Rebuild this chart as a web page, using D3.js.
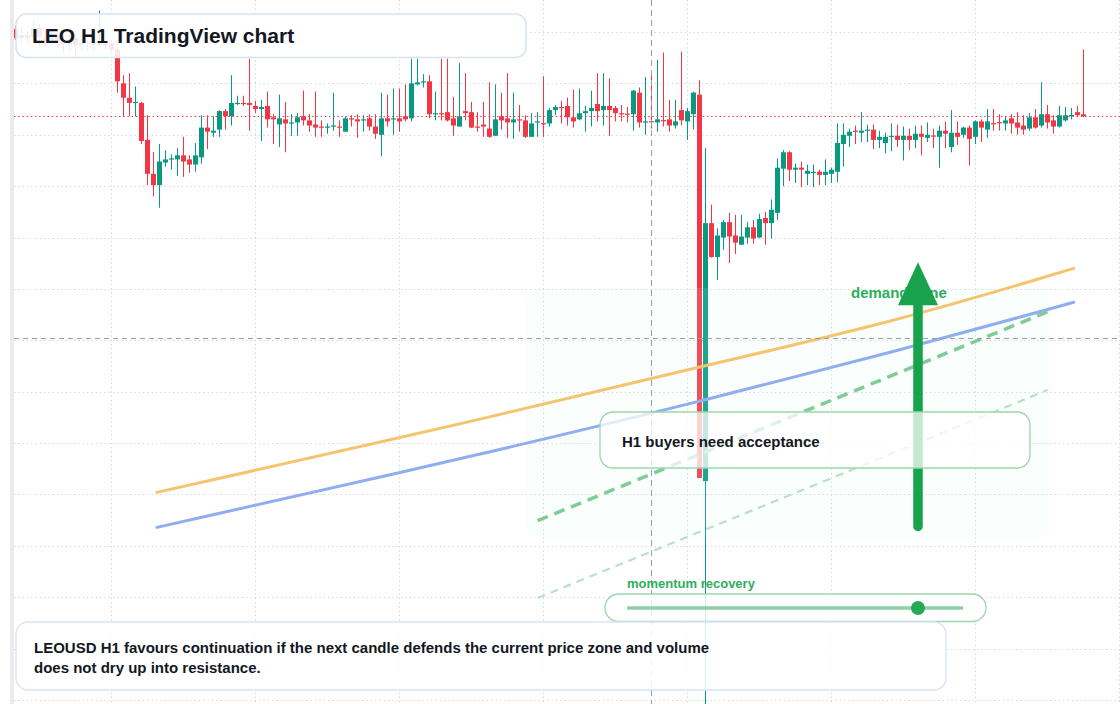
<!DOCTYPE html>
<html>
<head>
<meta charset="utf-8">
<script src="https://cdn.jsdelivr.net/npm/d3@7"></script>
<style>
  html, body { margin: 0; padding: 0; background: #fff; }
  svg { display: block; font-family: "Liberation Sans", Arial, sans-serif; }
</style>
</head>
<body>
<div id="chart"></div>
<script>
// LEOUSD, one candle per hour
const startTime = Date.UTC(2025, 2, 10, 8);

const opens = [
  9.103, 9.094, 9.097, 9.095, 9.104, 9.095, 9.092, 9.096, 9.091, 9.088,
  9.094, 9.087, 9.090, 9.088, 9.087, 9.089, 9.089, 9.083, 9.050, 9.036,
  9.031, 9.031, 8.995, 8.962, 8.951, 8.973, 8.976, 8.976, 8.980, 8.976,
  8.971, 8.978, 9.007, 9.002, 9.005, 9.023, 9.018, 9.030, 9.031, 9.031,
  9.028, 9.025, 9.028, 9.017, 9.010, 9.015, 9.011, 9.012, 9.018, 9.014,
  9.010, 9.008, 9.007, 9.008, 9.008, 9.003, 9.016, 9.015, 9.014, 9.016,
  9.008, 9.000, 9.016, 9.015, 9.016, 9.018, 9.016, 9.049, 9.051, 9.052,
  9.020, 9.021, 9.022, 9.016, 9.008, 9.023, 9.022, 9.008, 9.010, 9.006,
  8.999, 9.018, 9.016, 9.012, 9.015, 9.014, 8.998, 9.012, 9.0113, 9.011,
  9.024, 9.027, 9.028, 9.017, 9.015, 9.021, 9.023, 9.030, 9.024, 9.028,
  9.026, 9.021, 9.0206, 9.020, 9.041, 9.012, 9.0133, 9.012, 9.0143, 9.015,
  9.009, 9.024, 9.013, 9.020, 9.039, 8.663, 8.914, 8.881, 8.900, 8.915,
  8.902, 8.893, 8.900, 8.910, 8.900, 8.919, 8.914, 8.924, 8.967, 8.983,
  8.966, 8.968, 8.962, 8.9629, 8.964, 8.961, 8.962, 8.964, 8.991, 8.999,
  9.004, 9.002, 9.004, 9.005, 8.995, 8.992, 8.998, 8.999, 8.995, 8.999,
  8.995, 9.001, 8.997, 8.9993, 8.998, 9.004, 8.988, 9.002, 9.000, 9.007,
  8.998, 9.013, 9.005, 9.0113, 9.0123, 9.011, 9.016, 9.012, 9.009, 9.006,
  9.017, 9.009, 9.020, 9.014, 9.008, 9.014, 9.018, 9.022, 9.020
];
const highs = [
  9.106, 9.105, 9.101, 9.111, 9.108, 9.102, 9.103, 9.100, 9.097, 9.098,
  9.098, 9.093, 9.092, 9.093, 9.121, 9.092, 9.092, 9.085, 9.058, 9.060,
  9.047, 9.032, 9.019, 8.983, 8.991, 8.985, 8.981, 8.987, 8.998, 8.980,
  8.992, 9.019, 9.019, 9.018, 9.024, 9.025, 9.058, 9.038, 9.038, 9.074,
  9.033, 9.034, 9.042, 9.020, 9.039, 9.032, 9.020, 9.021, 9.043, 9.020,
  9.042, 9.014, 9.011, 9.041, 9.014, 9.018, 9.019, 9.020, 9.019, 9.020,
  9.020, 9.041, 9.039, 9.045, 9.045, 9.049, 9.074, 9.074, 9.059, 9.058,
  9.042, 9.074, 9.074, 9.037, 9.070, 9.060, 9.032, 9.022, 9.032, 9.051,
  9.049, 9.041, 9.060, 9.041, 9.029, 9.019, 9.021, 9.022, 9.057, 9.026,
  9.029, 9.033, 9.036, 9.044, 9.045, 9.028, 9.043, 9.060, 9.060, 9.055,
  9.028, 9.029, 9.027, 9.0435, 9.046, 9.056, 9.060, 9.073, 9.080, 9.034,
  9.034, 9.081, 9.026, 9.042, 9.053, 8.987, 8.932, 8.909, 8.917, 8.924,
  8.922, 8.922, 8.915, 8.917, 8.923, 8.925, 8.937, 8.977, 8.985, 8.984,
  8.972, 8.974, 8.971, 8.971, 8.966, 8.976, 8.968, 9.011, 9.011, 9.006,
  9.009, 9.022, 9.010, 9.010, 9.004, 9.002, 9.011, 9.010, 9.008, 9.006,
  9.009, 9.009, 9.012, 9.006, 9.009, 9.013, 9.024, 9.013, 9.008, 9.009,
  9.014, 9.015, 9.025, 9.025, 9.020, 9.018, 9.020, 9.022, 9.019, 9.021,
  9.025, 9.051, 9.029, 9.019, 9.028, 9.027, 9.026, 9.028, 9.083
];
const lows = [
  9.092, 9.088, 9.089, 9.092, 9.086, 9.085, 9.087, 9.084, 9.080, 9.082,
  9.075, 9.082, 9.082, 9.082, 9.084, 9.083, 9.079, 9.041, 9.018, 9.018,
  9.018, 8.991, 8.951, 8.940, 8.929, 8.969, 8.966, 8.960, 8.959, 8.963,
  8.964, 8.972, 8.986, 8.998, 8.998, 9.005, 9.009, 9.029, 9.028, 9.004,
  9.021, 8.994, 9.007, 8.991, 8.988, 8.983, 8.999, 8.999, 9.009, 9.003,
  8.998, 8.998, 9.001, 9.004, 8.998, 9.003, 9.008, 8.997, 9.003, 9.004,
  8.996, 8.979, 9.008, 9.000, 9.003, 9.013, 9.013, 9.048, 9.046, 9.016,
  9.014, 9.014, 9.013, 8.999, 9.008, 9.014, 9.0065, 9.003, 8.998, 8.997,
  8.999, 9.005, 8.997, 8.996, 9.003, 8.997, 8.998, 8.998, 8.998, 9.008,
  9.019, 9.011, 9.009, 9.007, 9.014, 9.003, 9.008, 9.013, 9.009, 8.999,
  9.013, 9.013, 9.012, 9.004, 9.007, 9.000, 9.006, 9.003, 9.008, 9.003,
  9.006, 9.009, 8.995, 9.005, 8.666, 8.431, 8.8805, 8.859, 8.888, 8.875,
  8.884, 8.8926, 8.894, 8.894, 8.8995, 8.893, 8.899, 8.917, 8.950, 8.955,
  8.953, 8.949, 8.951, 8.949, 8.951, 8.951, 8.953, 8.954, 8.969, 8.988,
  8.991, 8.993, 8.993, 8.986, 8.987, 8.982, 8.984, 8.988, 8.975, 8.985,
  8.987, 8.980, 8.993, 8.987, 8.968, 8.987, 8.983, 8.990, 8.997, 8.970,
  8.991, 8.993, 8.997, 9.004, 9.004, 9.004, 9.001, 9.000, 9.000, 9.004,
  9.006, 9.007, 9.006, 9.001, 9.007, 9.013, 9.015, 9.017, 9.017
];
const closes = [
  9.094, 9.097, 9.094, 9.104, 9.095, 9.092, 9.096, 9.091, 9.088, 9.092,
  9.087, 9.090, 9.089, 9.090, 9.090, 9.087, 9.083, 9.052, 9.036, 9.031,
  9.032, 8.994, 8.962, 8.951, 8.974, 8.976, 8.977, 8.980, 8.974, 8.971,
  8.980, 9.007, 9.003, 9.004, 9.023, 9.018, 9.031, 9.031, 9.030, 9.029,
  9.025, 9.027, 9.015, 9.015, 9.016, 9.011, 9.012, 9.017, 9.014, 9.009,
  9.007, 9.007, 9.008, 9.009, 9.007, 9.016, 9.015, 9.013, 9.015, 9.008,
  9.001, 9.016, 9.013, 9.016, 9.013, 9.015, 9.050, 9.051, 9.052, 9.020,
  9.021, 9.020, 9.014, 9.009, 9.018, 9.021, 9.007, 9.007, 9.008, 8.998,
  9.015, 9.014, 9.012, 9.015, 9.014, 8.998, 9.011, 9.013, 9.0106, 9.024,
  9.027, 9.026, 9.017, 9.013, 9.021, 9.023, 9.026, 9.023, 9.028, 9.024,
  9.021, 9.020, 9.0196, 9.043, 9.012, 9.013, 9.0123, 9.015, 9.0133, 9.009,
  9.013, 9.014, 9.023, 9.041, 8.666, 8.914, 8.881, 8.902, 8.915, 8.901,
  8.895, 8.901, 8.910, 8.899, 8.918, 8.914, 8.927, 8.968, 8.983, 8.966,
  8.968, 8.966, 8.965, 8.9639, 8.961, 8.964, 8.966, 8.992, 9.000, 9.003,
  9.003, 9.004, 9.005, 8.995, 8.998, 8.998, 8.999, 8.995, 8.999, 8.995,
  9.001, 8.998, 9.000, 8.9983, 9.004, 9.001, 9.002, 8.998, 9.007, 8.996,
  9.013, 9.007, 9.013, 9.0103, 9.0113, 9.014, 9.011, 9.007, 9.005, 9.017,
  9.007, 9.020, 9.012, 9.008, 9.019, 9.019, 9.0193, 9.019, 9.018
];

// overlays, hours counted from the first candle
const orangeHours = [23.6, 80.8, 113.7, 146.7, 176.4];
const orangePrices = [8.652, 8.727, 8.774, 8.818, 8.870];
const blueHours = [23.6, 80.8, 113.7, 146.7, 176.4];
const bluePrices = [8.618, 8.693, 8.740, 8.789, 8.837];
const channelHours = [87.05, 172.05];
const channelUpper = [8.6245, 8.8278];
const channelLower = [8.5493, 8.7516];
const zoneHours = [85.07, 172.7];
const zonePrices = [8.607, 8.851];
const arrowHour = 150.45;
const arrowPrices = [8.614, 8.876];
const crossHour = 106;
const crossPrice = 8.802;
const momentum = 0.866;

const W = 1120, H = 704, paneLeft = 14;
const up = "#089981", down = "#f23645";
const hourToTime = h => new Date(startTime + h * 3600e3);
const times = opens.map((d, i) => hourToTime(i));
const candles = opens.map((o, i) => ({t: times[i], o: o, h: highs[i], l: lows[i], c: closes[i]}));

const svg = d3.select("#chart").append("svg")
    .attr("width", W)
    .attr("height", H);

svg.append("rect").attr("width", W).attr("height", H).attr("fill", "#fff");

const x = d3.scaleUtc()
    .domain([times[0], times[times.length - 1]])
    .range([15.3, 1083.3]);
const y = d3.scaleLinear()
    .domain([8.45, 9.10])
    .range([700, 32]);

svg.append("defs").append("clipPath").attr("id", "pane")
    .append("rect")
    .attr("x", paneLeft).attr("y", 0)
    .attr("width", W - paneLeft).attr("height", H);

const pane = svg.append("g").attr("clip-path", "url(#pane)");

// dotted grid
const days = d3.utcDay.range(x.invert(paneLeft), x.invert(W + 2));
pane.append("g").selectAll("line")
    .data(days)
    .join("line")
    .attr("x1", d => Math.round(x(d)) + 0.5)
    .attr("x2", d => Math.round(x(d)) + 0.5)
    .attr("y1", 0)
    .attr("y2", H)
    .attr("stroke", "#cfd2d7")
    .attr("stroke-dasharray", "1.3,3");

pane.append("g").selectAll("line")
    .data(y.ticks(14))
    .join("line")
    .attr("x1", paneLeft)
    .attr("x2", W)
    .attr("y1", d => Math.round(y(d)) + 0.5)
    .attr("y2", d => Math.round(y(d)) + 0.5)
    .attr("stroke", "#cfd2d7")
    .attr("stroke-dasharray", "1.3,3");

// candles
const cg = pane.append("g");
cg.selectAll("line")
    .data(candles)
    .join("line")
    .attr("x1", d => Math.round(x(d.t)) + 0.5)
    .attr("x2", d => Math.round(x(d.t)) + 0.5)
    .attr("y1", d => y(d.h))
    .attr("y2", d => y(d.l))
    .attr("stroke", d => d.c >= d.o ? up : down)
    .attr("stroke-width", 1);

cg.selectAll("rect")
    .data(candles)
    .join("rect")
    .attr("x", d => Math.round(x(d.t)) - 2)
    .attr("width", 5)
    .attr("y", d => y(Math.max(d.o, d.c)))
    .attr("height", d => Math.max(1.2, Math.abs(y(d.o) - y(d.c))))
    .attr("fill", d => d.c >= d.o ? up : down);

// last price line
const last = closes[closes.length - 1];
pane.append("line")
    .attr("x1", paneLeft).attr("x2", W)
    .attr("y1", Math.round(y(last)) + 0.5)
    .attr("y2", Math.round(y(last)) + 0.5)
    .attr("stroke", down)
    .attr("stroke-dasharray", "1.5,2.7");

// demand zone
pane.append("rect")
    .attr("x", x(hourToTime(zoneHours[0])))
    .attr("y", y(zonePrices[1]))
    .attr("width", x(hourToTime(zoneHours[1])) - x(hourToTime(zoneHours[0])))
    .attr("height", y(zonePrices[0]) - y(zonePrices[1]))
    .attr("rx", 14)
    .attr("fill", "rgb(220,245,228)")
    .attr("fill-opacity", 0.13);

// smooth averages
const curve = d3.line()
    .x(d => x(hourToTime(d[0])))
    .y(d => y(d[1]))
    .curve(d3.curveBasis);

pane.append("path")
    .attr("d", curve(d3.zip(orangeHours, orangePrices)))
    .attr("fill", "none")
    .attr("stroke", "#f5c46e")
    .attr("stroke-width", 3)
    .attr("stroke-linecap", "round");

pane.append("path")
    .attr("d", curve(d3.zip(blueHours, bluePrices)))
    .attr("fill", "none")
    .attr("stroke", "#8eaef0")
    .attr("stroke-width", 3)
    .attr("stroke-linecap", "round");

// channel
const straight = d3.line()
    .x(d => x(hourToTime(d[0])))
    .y(d => y(d[1]));

pane.append("path")
    .attr("d", straight(d3.zip(channelHours, channelUpper)))
    .attr("fill", "none")
    .attr("stroke", "#7fcc98")
    .attr("stroke-width", 3.5)
    .attr("stroke-dasharray", "11,7");

pane.append("path")
    .attr("d", straight(d3.zip(channelHours, channelLower)))
    .attr("fill", "none")
    .attr("stroke", "#b6e2c5")
    .attr("stroke-width", 2.2)
    .attr("stroke-dasharray", "8,6");

// crosshair
pane.append("line")
    .attr("x1", paneLeft).attr("x2", W)
    .attr("y1", Math.round(y(crossPrice)) + 0.5)
    .attr("y2", Math.round(y(crossPrice)) + 0.5)
    .attr("stroke", "#9a9da5")
    .attr("stroke-dasharray", "5,4");

pane.append("line")
    .attr("x1", Math.round(x(hourToTime(crossHour))) + 0.5)
    .attr("x2", Math.round(x(hourToTime(crossHour))) + 0.5)
    .attr("y1", 0).attr("y2", H)
    .attr("stroke", "#9a9da5")
    .attr("stroke-dasharray", "6,4");

// demand arrow
const ax = x(hourToTime(arrowHour));
const aTop = y(arrowPrices[1]), aBot = y(arrowPrices[0]);

svg.append("text")
    .attr("x", ax - 67)
    .attr("y", aTop + 36)
    .attr("fill", "#2fae5c")
    .attr("font-size", 15)
    .attr("font-weight", "bold")
    .text("demand zone");

svg.append("line")
    .attr("x1", ax).attr("x2", ax)
    .attr("y1", aTop + 40).attr("y2", aBot - 5)
    .attr("stroke", "#18a24c")
    .attr("stroke-width", 9.5)
    .attr("stroke-linecap", "round");

svg.append("path")
    .attr("d", `M${ax},${aTop} L${ax + 20},${aTop + 43} L${ax - 20},${aTop + 43} Z`)
    .attr("fill", "#18a24c");

// note box
svg.append("rect")
    .attr("x", 600).attr("y", 412)
    .attr("width", 430).attr("height", 56)
    .attr("rx", 13)
    .attr("fill", "#fff").attr("fill-opacity", 0.75)
    .attr("stroke", "#9ad7ae").attr("stroke-width", 1.3);

svg.append("text")
    .attr("x", 622).attr("y", 447)
    .attr("fill", "#131722")
    .attr("font-size", 15)
    .attr("font-weight", "bold")
    .text("H1 buyers need acceptance");

// momentum slider
const m = d3.scaleLinear().domain([0, 1]).range([627, 963]);

svg.append("text")
    .attr("x", 627).attr("y", 587.5)
    .attr("fill", "#2fae5c")
    .attr("font-size", 13)
    .attr("font-weight", "bold")
    .text("momentum recovery");

svg.append("rect")
    .attr("x", 605).attr("y", 594)
    .attr("width", 381).attr("height", 27.5)
    .attr("rx", 13.75)
    .attr("fill", "#fff").attr("fill-opacity", 0.8)
    .attr("stroke", "#9ad7ae").attr("stroke-width", 1.3);

svg.append("line")
    .attr("x1", m(0)).attr("x2", m(1))
    .attr("y1", 608).attr("y2", 608)
    .attr("stroke", "#8ed1a5")
    .attr("stroke-width", 3.5);

svg.append("circle")
    .attr("cx", m(momentum)).attr("cy", 608)
    .attr("r", 7)
    .attr("fill", "#27a857");

// summary box
svg.append("rect")
    .attr("x", 16).attr("y", 622)
    .attr("width", 930).attr("height", 68)
    .attr("rx", 12)
    .attr("fill", "#fff").attr("fill-opacity", 0.85)
    .attr("stroke", "#d6e3f6").attr("stroke-width", 1.3);

const summary = svg.append("text")
    .attr("fill", "#131722")
    .attr("font-size", 15)
    .attr("font-weight", "bold");
summary.append("tspan").attr("x", 34).attr("y", 653)
    .text("LEOUSD H1 favours continuation if the next candle defends the current price zone and volume");
summary.append("tspan").attr("x", 34).attr("y", 673)
    .text("does not dry up into resistance.");

// title
svg.append("rect")
    .attr("x", 16).attr("y", 14)
    .attr("width", 510).attr("height", 43.5)
    .attr("rx", 10)
    .attr("fill", "#fff").attr("fill-opacity", 0.88)
    .attr("stroke", "#d6e3f6").attr("stroke-width", 1.5);

svg.append("text")
    .attr("x", 32).attr("y", 43)
    .attr("fill", "#131722")
    .attr("font-size", 21)
    .attr("font-weight", "bold")
    .text("LEO H1 TradingView chart");

// left edge strip
svg.append("rect")
    .attr("x", 10).attr("y", 0)
    .attr("width", 4).attr("height", H)
    .attr("fill", "#ebebeb");
</script>
</body>
</html>
